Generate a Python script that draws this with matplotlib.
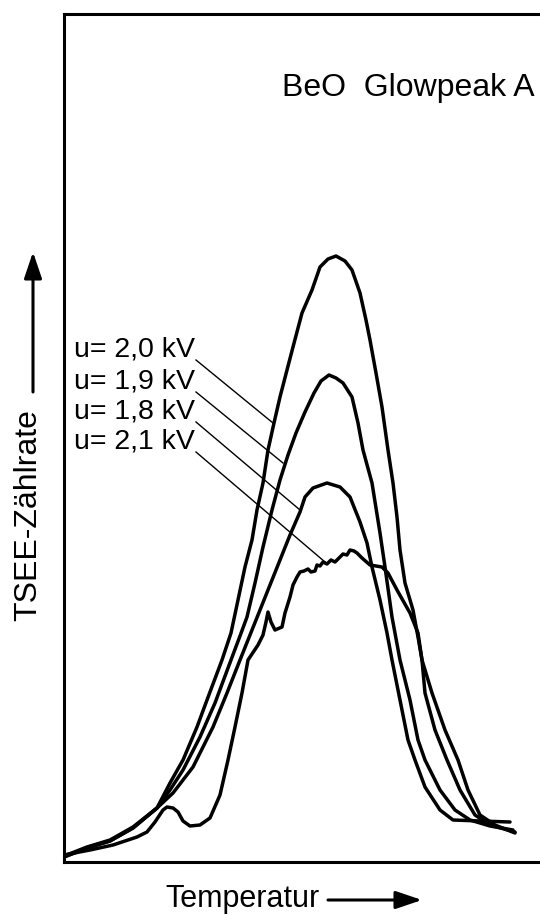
import matplotlib
matplotlib.use("Agg")
import matplotlib.pyplot as plt
from matplotlib.patches import FancyArrowPatch

# TSEE glow curves of BeO (glow peak A) for four counter voltages.
# Temperature and count rate are in arbitrary units (no scale on the axes).
curve_2_0kV = [(0, 6), (23, 15), (46, 22), (69, 35), (93, 54), (106, 79), (119, 102),
               (133, 135), (143, 162), (158, 202), (167, 229), (174, 262), (181, 295),
               (188, 322), (193, 352), (199, 379), (204, 412), (210, 439), (216, 465),
               (223, 492), (229, 515), (238, 549), (248, 572), (256, 595), (264, 603),
               (272, 606), (281, 601), (288, 592), (296, 569), (302, 542), (306, 522),
               (312, 489), (318, 455), (324, 412), (329, 379), (333, 345), (336, 312),
               (341, 279), (349, 252), (354, 225), (358, 202), (361, 169), (371, 132),
               (383, 102), (396, 72), (411, 47), (426, 37), (451, 30)]

curve_1_9kV = [(0, 5), (23, 14), (46, 21), (69, 34), (93, 54), (106, 72), (119, 92),
               (136, 125), (151, 159), (167, 202), (176, 226), (183, 245), (191, 279),
               (199, 315), (208, 352), (216, 382), (224, 407), (232, 429), (241, 450),
               (250, 469), (257, 481), (265, 487), (272, 484), (279, 479), (288, 465),
               (294, 439), (299, 412), (308, 379), (316, 329), (321, 295), (328, 245),
               (336, 202), (346, 162), (354, 122), (361, 102), (376, 72), (391, 52),
               (406, 42), (426, 36), (449, 32)]

curve_1_8kV = [(0, 5), (23, 14), (46, 21), (69, 34), (93, 54), (109, 69), (129, 95),
               (149, 135), (163, 169), (176, 202), (186, 227), (196, 252), (206, 277),
               (216, 302), (226, 327), (236, 350), (241, 365), (249, 374), (263, 379),
               (276, 375), (286, 365), (296, 340), (303, 319), (308, 295), (316, 262),
               (323, 229), (328, 202), (336, 162), (344, 122), (351, 102), (361, 75),
               (376, 52), (389, 42), (416, 41), (446, 40)]

curve_2_1kV = [(0, 7), (26, 12), (49, 17), (73, 25), (83, 30), (91, 40), (99, 52),
               (103, 55), (109, 54), (114, 50), (119, 41), (126, 36), (136, 37),
               (146, 44), (156, 67), (164, 102), (171, 135), (178, 169), (184, 202),
               (194, 217), (199, 227), (202, 240), (204, 250), (207, 240), (211, 232),
               (218, 235), (221, 249), (226, 265), (229, 277), (233, 285), (236, 290),
               (240, 291), (244, 293), (247, 290), (251, 291), (253, 297), (256, 296),
               (259, 300), (263, 298), (267, 302), (271, 300), (275, 304), (279, 308),
               (283, 307), (286, 312), (290, 311), (293, 309), (298, 304), (306, 297),
               (312, 296), (318, 295), (324, 289), (333, 272), (346, 249), (354, 229),
               (358, 202), (368, 169), (381, 132), (394, 102), (404, 72), (416, 47),
               (431, 37), (451, 29)]

series = [curve_2_0kV, curve_1_9kV, curve_1_8kV, curve_2_1kV]
labels = ["u= 2,0 kV", "u= 1,9 kV", "u= 1,8 kV", "u= 2,1 kV"]
label_y = [512, 480, 450, 420]
# where each leader line touches its curve
leader_end = [(209, 439), (219, 399), (236, 352), (261, 300)]

FONT = ["Liberation Sans", "DejaVu Sans"]

fig = plt.figure(figsize=(5.4, 9.15), dpi=100)
W, H = 540, 915
ax = fig.add_axes([64 / W, 53 / H, 476 / W, 848 / H])
ax.set_xlim(0, 476)
ax.set_ylim(0, 848)
ax.set_xticks([])
ax.set_yticks([])
for side in ("left", "bottom", "top"):
    ax.spines[side].set_linewidth(2.2)
    ax.spines[side].set_color("black")
ax.spines["right"].set_visible(False)

for pts in series:
    xs = [p[0] for p in pts]
    ys = [p[1] for p in pts]
    ax.plot(xs, ys, color="black", lw=2.5, solid_joinstyle="round",
            solid_capstyle="round")

for lab, ly, (ex, ey) in zip(labels, label_y, leader_end):
    ax.text(131, ly, lab, ha="right", va="center", fontsize=20.5, family=FONT)
    ax.plot([132, ex], [ly - 10, ey], color="black", lw=1.0)

fig.text(282 / W, 1 - 96 / H, "BeO  Glowpeak A", ha="left", va="baseline",
         fontsize=23, family=FONT)
fig.text(28 / W, 1 - 515 / H, "TSEE-Zählrate", rotation=90, ha="center",
         va="center", fontsize=23, family=FONT)
fig.text(165 / W, 1 - 907 / H, "Temperatur", ha="left", va="baseline",
         fontsize=22, family=FONT)

arrow_kw = dict(arrowstyle="-|>,head_length=0.8,head_width=0.27",
                mutation_scale=20, lw=2.2, color="black")
fig.patches.append(FancyArrowPatch(
    (33 / W, 1 - 392 / H), (33 / W, 1 - 252 / H),
    transform=fig.transFigure, shrinkA=0, shrinkB=0, **arrow_kw))
fig.patches.append(FancyArrowPatch(
    (328 / W, 1 - 900 / H), (422 / W, 1 - 900 / H),
    transform=fig.transFigure, shrinkA=0, shrinkB=0, **arrow_kw))

fig.savefig("out.png", dpi=100, facecolor="white")
